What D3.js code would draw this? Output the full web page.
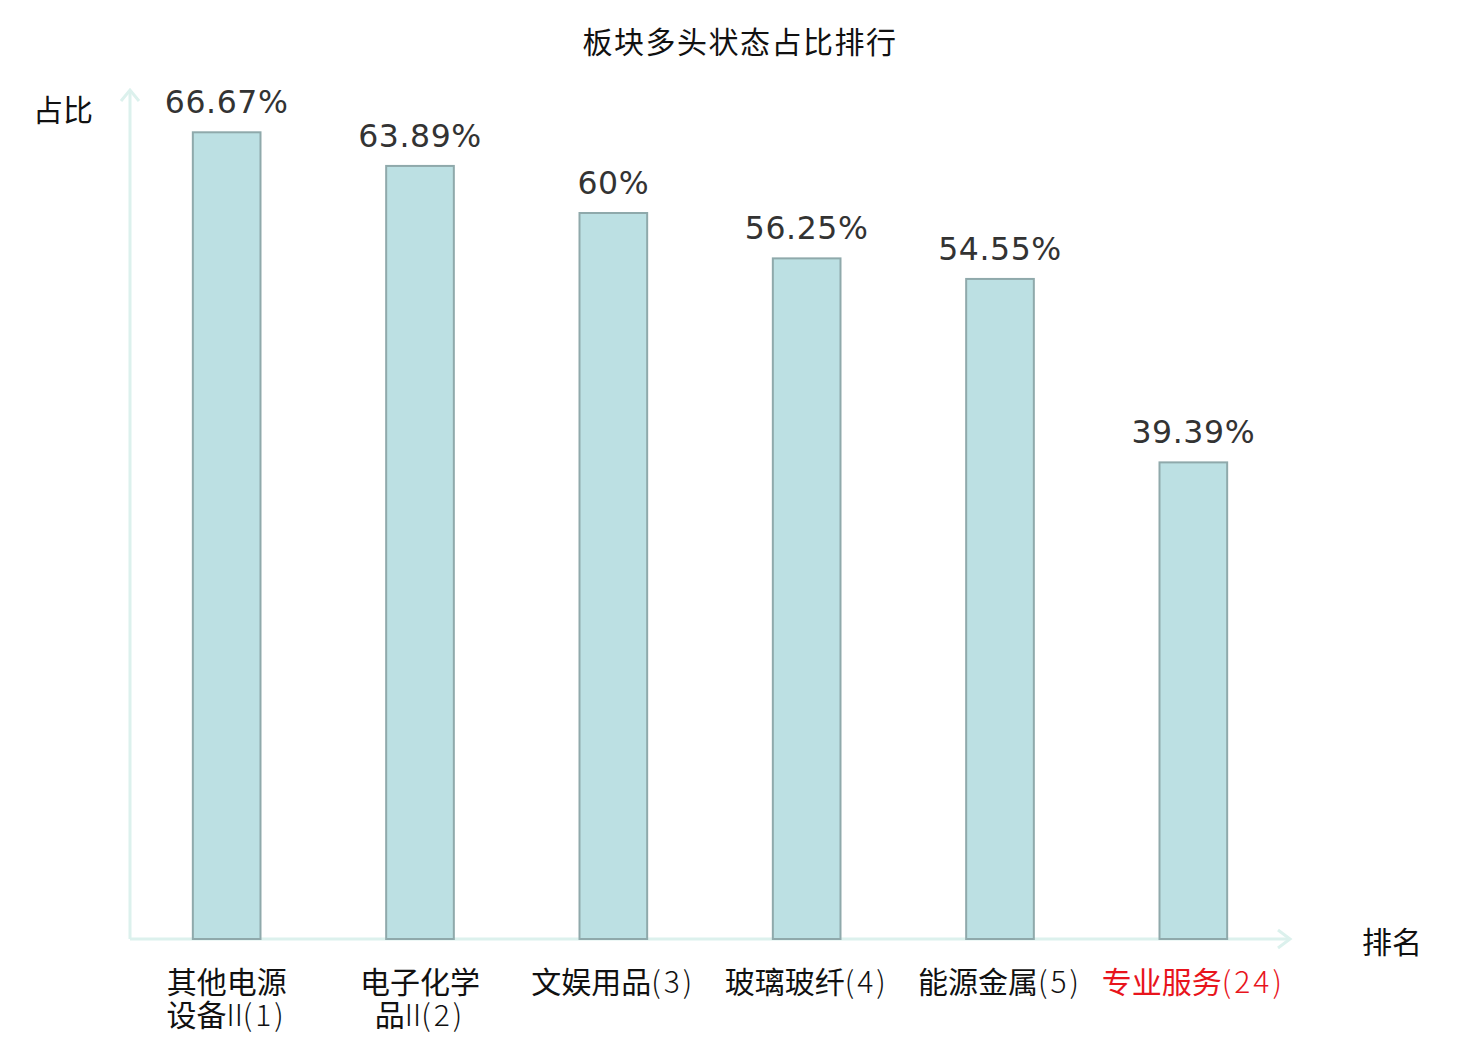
<!DOCTYPE html>
<html>
<head>
<meta charset="utf-8">
<script src="https://cdn.jsdelivr.net/npm/d3@7/dist/d3.min.js"></script>
<style>
  body { margin: 0; background: #fff; }
  #chart { width: 1480px; height: 1040px; }
</style>
</head>
<body>
<div id="chart"></div>
<script>
// Chart data
const categories = ["其他电源设备II", "电子化学品II", "文娱用品", "玻璃玻纤", "能源金属", "专业服务"];
const ranks = [1, 2, 3, 4, 5, 24];
const values = [66.67, 63.89, 60, 56.25, 54.55, 39.39];
const valueLabels = ["66.67%", "63.89%", "60%", "56.25%", "54.55%", "39.39%"];
const highlightIndex = 5;

const data = categories.map((c, i) => ({ name: c, rank: ranks[i], value: values[i], label: valueLabels[i] }));

const W = 1480, H = 1040;
const margin = { top: 92, right: 190, bottom: 101, left: 130 };
const innerW = W - margin.left - margin.right;
const innerH = H - margin.top - margin.bottom;

const cjk = "'Noto Sans CJK SC', 'DejaVu Sans', sans-serif";
const latin = "'DejaVu Sans', 'Noto Sans CJK SC', sans-serif";
const axisColor = "#dcf1ed";

const svg = d3.select("#chart").append("svg")
  .attr("width", W)
  .attr("height", H);

const g = svg.append("g")
  .attr("transform", `translate(${margin.left},${margin.top})`);

// Scales
const x = d3.scaleBand()
  .domain(categories)
  .range([0, innerW])
  .paddingInner(0.65)
  .paddingOuter(0.325);

const y = d3.scaleLinear()
  .domain([0, 70])
  .range([innerH, 0]);

// Title
svg.append("text")
  .attr("x", W / 2)
  .attr("y", 53)
  .attr("text-anchor", "middle")
  .style("font-family", cjk)
  .style("font-size", "30px")
  .style("letter-spacing", "1.5px")
  .style("fill", "#111")
  .text("板块多头状态占比排行");

// Axes with arrows
g.append("line")
  .attr("x1", 0).attr("y1", innerH)
  .attr("x2", 0).attr("y2", -2)
  .style("stroke", axisColor)
  .style("stroke-width", 3);
g.append("path")
  .attr("d", "M-9,9 L0,-2 L9,9")
  .style("fill", "none")
  .style("stroke", axisColor)
  .style("stroke-width", 3);

g.append("line")
  .attr("x1", 0).attr("y1", innerH)
  .attr("x2", innerW).attr("y2", innerH)
  .style("stroke", axisColor)
  .style("stroke-width", 3);
g.append("path")
  .attr("d", `M${innerW - 12},${innerH - 9} L${innerW},${innerH} L${innerW - 12},${innerH + 9}`)
  .style("fill", "none")
  .style("stroke", axisColor)
  .style("stroke-width", 3);

// Axis titles
svg.append("text")
  .attr("x", 63)
  .attr("y", 121)
  .attr("text-anchor", "middle")
  .style("font-family", cjk)
  .style("font-size", "30px")
  .style("fill", "#111")
  .text("占比");

svg.append("text")
  .attr("x", 1392)
  .attr("y", 953)
  .attr("text-anchor", "middle")
  .style("font-family", cjk)
  .style("font-size", "30px")
  .style("fill", "#111")
  .text("排名");

// Bars
g.selectAll(".bar")
  .data(data)
  .enter()
  .append("rect")
  .attr("class", "bar")
  .attr("x", d => x(d.name))
  .attr("y", d => y(d.value))
  .attr("width", x.bandwidth())
  .attr("height", d => innerH - y(d.value))
  .style("fill", "#bce0e3")
  .style("stroke", "#8fa9ab")
  .style("stroke-width", 2);

// Value labels
g.selectAll(".bar-label")
  .data(data)
  .enter()
  .append("text")
  .attr("class", "bar-label")
  .attr("x", d => x(d.name) + x.bandwidth() / 2)
  .attr("y", d => y(d.value) - 19)
  .attr("text-anchor", "middle")
  .style("font-family", latin)
  .style("font-size", "31.5px")
  .style("letter-spacing", "0.6px")
  .style("fill", "#333")
  .text(d => d.label);

// Category labels, wrapped after 4 characters when too long
const tickG = g.selectAll(".tick-label")
  .data(data)
  .enter()
  .append("text")
  .attr("class", "tick-label")
  .attr("x", d => x(d.name) + x.bandwidth() / 2)
  .attr("y", innerH + 54)
  .attr("text-anchor", "middle")
  .style("font-size", "30px")
  .style("fill", (d, i) => i === highlightIndex ? "#e8141c" : "#111");

tickG.each(function(d) {
  const t = d3.select(this);
  const cx = x(d.name) + x.bandwidth() / 2;
  const full = d.name + "(" + d.rank + ")";
  const lines = full.length > 9 ? [d.name.slice(0, 4), d.name.slice(4)] : [d.name];
  lines.forEach((ln, li) => {
    const isLast = li === lines.length - 1;
    const cjkPart = ln.replace(/II$/, "");
    t.append("tspan")
      .attr("x", cx)
      .attr("dy", li === 0 ? 0 : 33)
      .style("font-family", cjk)
      .text(cjkPart);
    if (ln.endsWith("II")) {
      t.append("tspan")
        .style("font-family", cjk)
        .style("font-weight", 300)
        .style("letter-spacing", "0px")
        .text("II");
    }
    if (isLast) {
      t.append("tspan")
        .style("font-family", cjk)
        .style("font-weight", 300)
        .style("letter-spacing", "3px")
        .text("(" + d.rank + ")");
    }
  });
});
</script>
</body>
</html>
